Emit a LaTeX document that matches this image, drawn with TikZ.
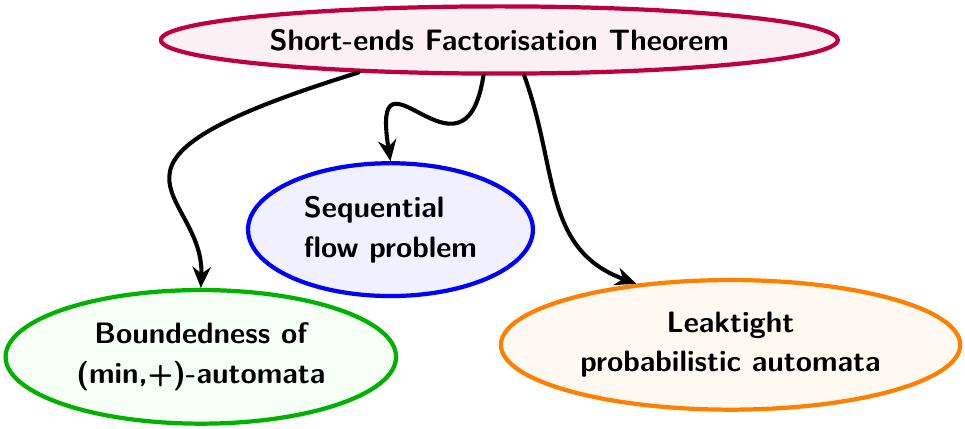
\documentclass[tikz,border=0pt]{standalone}
\usetikzlibrary{arrows.meta,shapes.geometric}

\begin{document}
\begin{tikzpicture}[line cap=round,line join=round,
    topic/.style={ellipse,line width=1.5pt,inner sep=0pt,font=\fontsize{10.5}{14}\sffamily\bfseries},
    link/.style={line width=1.45pt,-{Stealth[length=7.5pt,width=6.5pt]}}]
  \useasboundingbox (0,0) rectangle (12.06,5.35);
  \node[topic,draw=purple,fill=purple!6,minimum width=8.46cm,minimum height=0.84cm] (sft) at (6.24,4.85) {Short-ends Factorisation Theorem};
  \node[topic,draw=blue,fill=blue!6,minimum width=3.56cm,minimum height=1.66cm,align=left] (seq) at (4.88,2.48) {Sequential\\flow problem};
  \node[topic,draw=green!70!black,fill=green!4,minimum width=4.88cm,minimum height=1.67cm,align=center] (bnd) at (2.51,0.89) {Boundedness of\\(min,+)-automata};
  \node[topic,draw=orange,fill=orange!5,minimum width=5.74cm,minimum height=1.62cm,align=center] (leak) at (9.13,1.04) {Leaktight\\probabilistic automata};
  \draw[link] (sft.193.6) .. controls (0.75,3.29) and (2.56,2.98) .. (bnd.north);
  \draw[link] (sft.246) .. controls (5.80,2.85) and (4.62,4.98) .. (seq.north);
  \draw[link] (sft.305) .. controls (6.98,3.23) and (6.78,2.23) .. (leak.147);
\end{tikzpicture}
\end{document}
